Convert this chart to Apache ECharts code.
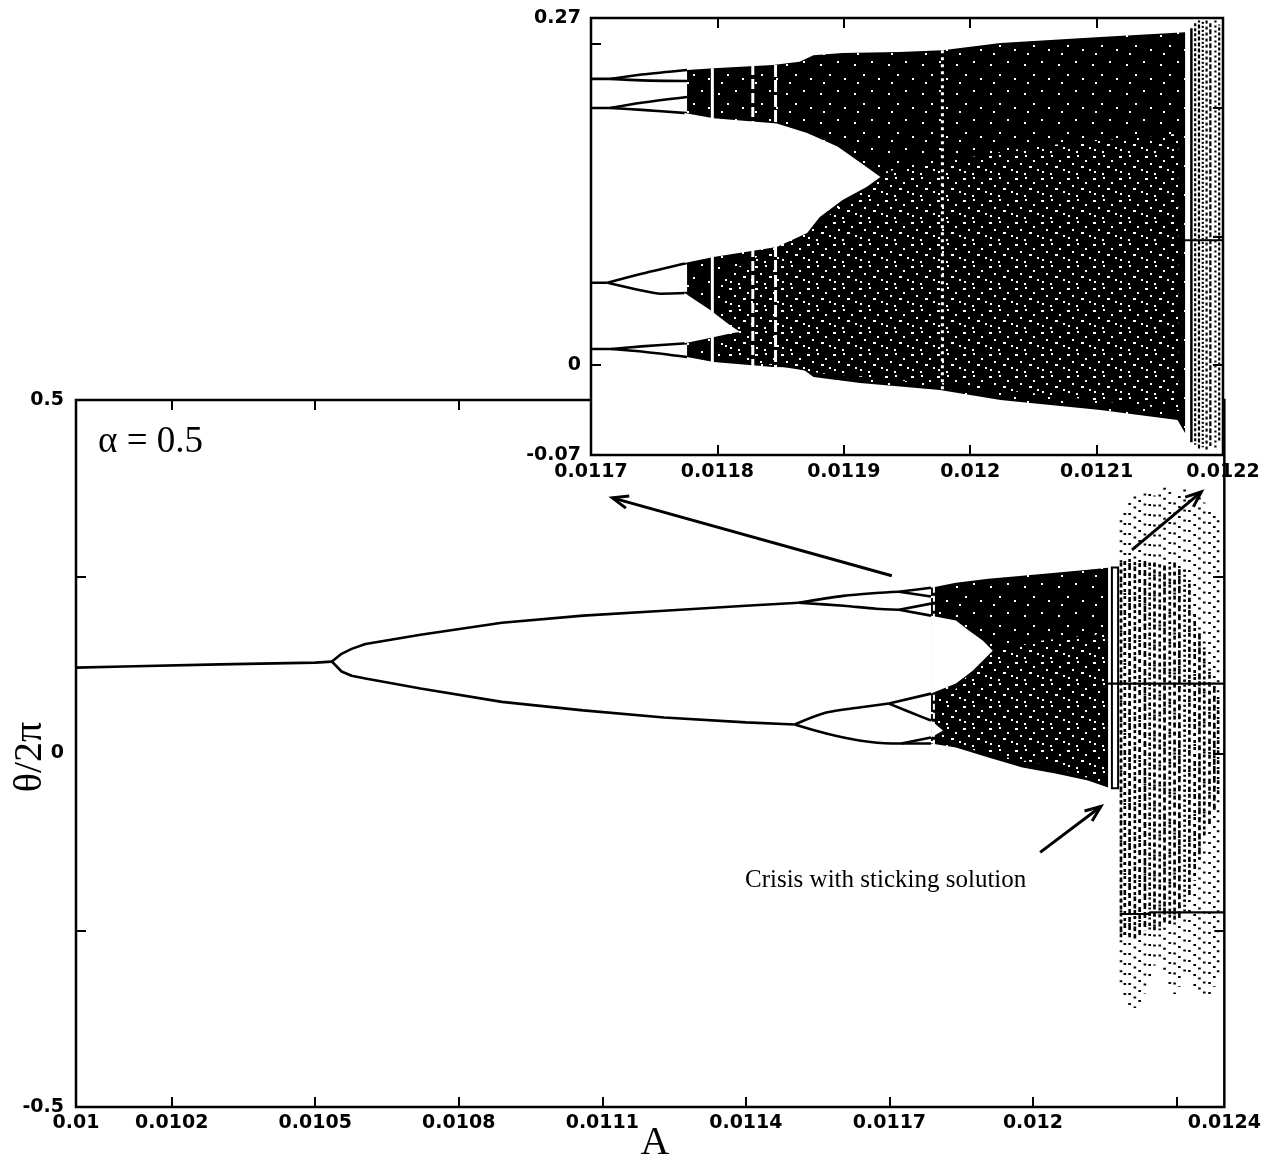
<!DOCTYPE html>
<html><head><meta charset="utf-8">
<script src="https://cdn.jsdelivr.net/npm/echarts@6/dist/echarts.min.js"></script>
<style>html,body{margin:0;padding:0;background:#fff}#c{width:1264px;height:1159px}</style>
</head><body><div id="c"></div>
<script>
// ================= DATA =================
// ---- main chart axes ----
const mainXTicks = [0.0102,0.0105,0.0108,0.0111,0.0114,0.0117,0.012,0.0123];
const mainXLabelVals = [0.01,0.0102,0.0105,0.0108,0.0111,0.0114,0.0117,0.012,0.0124];
const mainXLabelText = ['0.01','0.0102','0.0105','0.0108','0.0111','0.0114','0.0117','0.012','0.0124'];
const mainYLabelVals = [0.5,0,-0.5];
const mainYLabelText = ['0.5','0','-0.5'];
const mainYTicksLeft = [0.25,-0.25];
const mainYTicksRight = [0.25,0,-0.25];

// ---- main chart: periodic branches (A, theta/2pi) ----
const p1A = [0.01,0.0101,0.0103,0.0105,0.010535];
const p1T = [0.1215,0.123,0.126,0.1285,0.130];
const p2UpA = [0.010535,0.010555,0.010576,0.010605,0.01072,0.01089,0.01106,0.011229,0.0114,0.01151];
const p2UpT = [0.130,0.141,0.148,0.155,0.168,0.185,0.195,0.202,0.209,0.2133];
const p2LoA = [0.010535,0.010555,0.010576,0.010605,0.01072,0.01089,0.01106,0.011229,0.0114,0.011502];
const p2LoT = [0.130,0.116,0.110,0.106,0.092,0.073,0.061,0.051,0.044,0.041];
const p4UUA = [0.01151,0.011604,0.011672,0.01172];   const p4UUT = [0.2133,0.223,0.227,0.2288];
const p4ULA = [0.01151,0.011604,0.011672,0.01172];   const p4ULT = [0.2133,0.209,0.2048,0.2034];
const p4LUA = [0.011502,0.011568,0.011637,0.011699]; const p4LUT = [0.041,0.0579,0.065,0.0706];
const p4LLA = [0.011502,0.011568,0.011637,0.011705,0.011787]; const p4LLT = [0.041,0.0282,0.0183,0.0141,0.0141];
const p8UUaA = [0.01172,0.011787];  const p8UUaT = [0.2288,0.2345];
const p8UUbA = [0.01172,0.011787];  const p8UUbT = [0.2288,0.222];
const p8ULaA = [0.01172,0.011787];  const p8ULaT = [0.2034,0.212];
const p8ULbA = [0.01172,0.011787];  const p8ULbT = [0.2034,0.195];
const p8LUaA = [0.011699,0.011787]; const p8LUaT = [0.0706,0.0847];
const p8LUbA = [0.011699,0.01175,0.011787]; const p8LUbT = [0.0706,0.0565,0.0466];
const p8LLaA = [0.011725,0.011787]; const p8LLaT = [0.0141,0.0226];

// ---- main chart: chaotic band envelope ----
const mChaosA    = [0.011787,0.011839,0.011907,0.011978,0.012047,0.012115,0.012157];
const mChaosTopT = [0.2345,0.2415,0.247,0.2514,0.2556,0.26,0.2627];
const mChaosBotT = [0.0141,0.0085,-0.0056,-0.0198,-0.0282,-0.0381,-0.048];
const mNotch1A = [0.011787,0.011839,0.011866,0.011895,0.011916,0.011874,0.011839,0.011787];
const mNotch1T = [0.195,0.188,0.174,0.160,0.1455,0.117,0.0989,0.0847];
const mNotch2A = [0.011787,0.011812,0.011787];
const mNotch2T = [0.0466,0.0325,0.0226];
const mDenseA = [0.0118,0.0119,0.01202,0.012152,0.012152,0.01202,0.0119,0.0118];
const mDenseT = [0.06,0.14,0.16,0.17,-0.042,-0.015,0.0,0.02];
const mWindowA = [0.011793]; const mWindowTop = [0.236]; const mWindowBot = [0.013];

// ---- main chart: crisis / sticking region ----
const mStickBoxA = [0.012165,0.012178,0.012178,0.012165];
const mStickBoxT = [0.263,0.263,-0.049,-0.049];
const mColA = [0.012184,0.012192,0.012202,0.012213,0.012223,0.012234,0.012244,0.012254,0.012265,0.012275,0.012286,0.012296,0.012306,0.012317,0.012327,0.012338,0.012348,0.012358,0.012369,0.012379,0.012387];
const mColTop = [0.33,0.35,0.36,0.365,0.37,0.375,0.37,0.365,0.375,0.38,0.37,0.365,0.37,0.375,0.37,0.36,0.365,0.355,0.35,0.34,0.33];
const mColBot = [-0.33,-0.35,-0.36,-0.36,-0.355,-0.34,-0.32,-0.3,-0.29,-0.31,-0.33,-0.34,-0.33,-0.31,-0.32,-0.34,-0.345,-0.35,-0.34,-0.33,-0.32];
const mColDenseTop = [0.27,0.275,0.275,0.275,0.275,0.275,0.27,0.27,0.27,0.27,0.27,0.27,0.265,0.26,0.24,0.2,0.17,0.15,0.12,0.1,0.08];
const mColDenseBot = [-0.26,-0.26,-0.26,-0.26,-0.26,-0.25,-0.25,-0.25,-0.25,-0.24,-0.24,-0.24,-0.23,-0.22,-0.2,-0.18,-0.15,-0.12,-0.1,-0.08,-0.06];
const mH1A = [0.012157,0.0124];                 const mH1T = [0.0989,0.0989];
const mH2A = [0.012186,0.01224,0.012245,0.0124]; const mH2T = [-0.227,-0.227,-0.2246,-0.2246];

// ---- arrows (main-chart coordinates) ----
const arrowTailA = [0.011705,0.012207,0.012015];
const arrowTailT = [0.2514,0.2881,-0.1398];
const arrowHeadA = [0.011121,0.012352,0.012142];
const arrowHeadT = [0.3616,0.370,-0.0749];

// ---- inset axes ----
const inXTicks = [0.0118,0.0119,0.012,0.0121];
const inXLabelVals = [0.0117,0.0118,0.0119,0.012,0.0121,0.0122];
const inXLabelText = ['0.0117','0.0118','0.0119','0.012','0.0121','0.0122'];
const inYLabelVals = [0.27,0,-0.07];
const inYLabelText = ['0.27','0','-0.07'];
const inYTicksLeft = [0.25,0];
const inYTicksRight = [0.2,0.1,0];

// ---- inset: periodic branches ----
const iUUA = [0.0117,0.011715];  const iUUT = [0.2226,0.2226];
const iUUaA = [0.011715,0.01174,0.011776]; const iUUaT = [0.2226,0.226,0.2296];
const iUUbA = [0.011715,0.01174,0.011776]; const iUUbT = [0.2226,0.2215,0.221];
const iULA = [0.0117,0.011715];  const iULT = [0.200,0.200];
const iULaA = [0.011715,0.01174,0.011776]; const iULaT = [0.200,0.204,0.2085];
const iULbA = [0.011715,0.01174,0.011776]; const iULbT = [0.200,0.1985,0.196];
const iLUA = [0.0117,0.011713];  const iLUT = [0.064,0.064];
const iLUaA = [0.011713,0.01174,0.011776]; const iLUaT = [0.064,0.071,0.0794];
const iLUbA = [0.011713,0.01174,0.011755,0.011776]; const iLUbT = [0.064,0.058,0.0555,0.056];
const iLLA = [0.0117,0.011716];  const iLLT = [0.0125,0.0125];
const iLLaA = [0.011716,0.01174,0.011776]; const iLLaT = [0.0125,0.0145,0.017];
const iLLbA = [0.011716,0.01174,0.011776]; const iLLbT = [0.0125,0.0105,0.0062];

// ---- inset: chaotic band ----
const iTopA = [0.011776,0.011797,0.011844,0.011865,0.011876,0.011899,0.011944,0.011978,0.012024,0.012103,0.01217];
const iTopT = [0.2296,0.231,0.2335,0.236,0.241,0.2428,0.2436,0.245,0.2506,0.2553,0.259];
const iBotA = [0.011776,0.011797,0.011844,0.011866,0.011876,0.011913,0.011976,0.012024,0.012103,0.012164,0.01217];
const iBotT = [0.0062,0.0023,-0.0016,-0.002,-0.0093,-0.014,-0.0195,-0.0272,-0.035,-0.0428,-0.0529];
const iNotch1A = [0.011774,0.011797,0.011847,0.011871,0.011895,0.011913,0.011929,0.011918,0.011899,0.011881,0.011871,0.011847,0.011797,0.011774];
const iNotch1T = [0.196,0.192,0.188,0.1805,0.170,0.1576,0.1463,0.1385,0.1284,0.1152,0.1027,0.0918,0.084,0.0794];
const iNotch2A = [0.011774,0.011794,0.01181,0.011818,0.011812,0.011794,0.011774];
const iNotch2T = [0.056,0.043,0.031,0.0257,0.025,0.021,0.017];
const iDenseA = [0.011805,0.01188,0.01193,0.01205,0.012165,0.012165,0.01205,0.01188,0.011805];
const iDenseT = [0.07,0.11,0.15,0.17,0.18,-0.035,-0.022,-0.006,0.006];
const iWindowA = [0.011796,0.011828,0.011846,0.011978];
const iWindowTop = [0.231,0.2335,0.2335,0.245];
const iWindowBot = [0.0023,-0.0016,-0.0016,-0.0195];
const iStickLineA = [0.012175]; const iStickLineTop = [0.262]; const iStickLineBot = [-0.06];
const iColA = [0.012178,0.012181,0.012184,0.012187,0.01219,0.012194,0.012197];
const iColTop = [0.266,0.268,0.267,0.268,0.266,0.268,0.265];
const iColBot = [-0.062,-0.066,-0.064,-0.066,-0.063,-0.065,-0.06];
const iH1A = [0.012161,0.0122]; const iH1T = [0.097,0.097];

// ================= STYLE HELPERS =================
function makeTile(w, h, dots) {
  const c = document.createElement('canvas'); c.width = w; c.height = h;
  const g = c.getContext('2d'); g.fillStyle = '#000'; g.fillRect(0, 0, w, h);
  g.fillStyle = '#fff'; dots.forEach(d => g.fillRect(d[0], d[1], d[2], d[3]));
  return c;
}
const lightFill = { image: makeTile(34, 29, [[4,6,2,2],[21,3,2,2],[13,16,2,2],[28,20,2,2],[7,24,2,2]]), repeat: 'repeat' };
const heavyFill = { image: makeTile(26, 22, [[1,2,3,2],[11,1,2,2],[19,6,2,2],[6,9,2,2],[15,12,3,2],[23,15,2,2],[2,17,2,2],[10,19,2,2]]), repeat: 'repeat' };

const TICKFONT = { fontFamily: 'DejaVu Sans', fontWeight: 'bold', fontSize: 19, color: '#000' };
function lbl(vals, texts) { return v => { for (let i = 0; i < vals.length; i++) if (Math.abs(vals[i] - v) < 1e-9) return texts[i]; return ''; }; }
const tickStyle = { color: '#000', width: 2 };

// ================= SERIES =================
const series = [];
function lineS(A, T, xi, yi, z, w, smooth) {
  series.push({ type: 'line', xAxisIndex: xi, yAxisIndex: yi, z: z, silent: true, showSymbol: false, symbol: 'none',
    smooth: smooth || false,
    data: A.map((a, i) => [a, T[i]]), lineStyle: { color: '#000', width: w || 2.6 } });
}
function polyS(polys, xi, yi, z) {
  series.push({ type: 'custom', xAxisIndex: xi, yAxisIndex: yi, z: z, silent: true,
    data: polys.map((p, i) => [p.a[0], p.t[0], i]),
    renderItem(params, api) {
      const p = polys[params.dataIndex];
      return { type: 'polygon', shape: { points: p.a.map((a, k) => api.coord([a, p.t[k]])) },
        style: { fill: p.fill, stroke: p.stroke || null, lineWidth: p.lw || 0 } };
    } });
}
function vlineS(A, Top, Bot, xi, yi, z, styleFn) {
  series.push({ type: 'custom', xAxisIndex: xi, yAxisIndex: yi, z: z, silent: true,
    data: A.map((a, i) => [a, Top[i], Bot[i]]),
    renderItem(params, api) {
      const i = params.dataIndex;
      const p1 = api.coord([A[i], Top[i]]), p2 = api.coord([A[i], Bot[i]]);
      return { type: 'line', shape: { x1: p1[0], y1: p1[1], x2: p2[0], y2: p2[1] }, style: styleFn(i) };
    } });
}
function outline(a, top, bot) { return { a: a.concat(a.slice().reverse()), t: top.concat(bot.slice().reverse()) }; }

// ---- main periodic lines ----
lineS(p1A, p1T, 0, 0, 3);
lineS(p2UpA, p2UpT, 0, 0, 3);
lineS(p2LoA, p2LoT, 0, 0, 3);
[[p4UUA,p4UUT],[p4ULA,p4ULT],[p4LUA,p4LUT],[p4LLA,p4LLT],
 [p8UUaA,p8UUaT],[p8UUbA,p8UUbT],[p8ULaA,p8ULaT],[p8ULbA,p8ULbT],[p8LUaA,p8LUaT],[p8LUbA,p8LUbT],[p8LLaA,p8LLaT]]
  .forEach(b => lineS(b[0], b[1], 0, 0, 3, 2.6, b[0].length > 2 ? 0.3 : false));

// ---- main chaos ----
const mOuter = outline(mChaosA, mChaosTopT, mChaosBotT); mOuter.fill = lightFill;
polyS([mOuter, { a: mDenseA, t: mDenseT, fill: heavyFill },
       { a: mNotch1A, t: mNotch1T, fill: '#fff' }, { a: mNotch2A, t: mNotch2T, fill: '#fff' },
       { a: mStickBoxA, t: mStickBoxT, fill: null, stroke: '#000', lw: 2 }], 0, 0, 4);
vlineS(mWindowA, mWindowTop, mWindowBot, 0, 0, 5, () => ({ stroke: '#fff', lineWidth: 2, lineDash: [6, 3] }));
const mColDash = [[4,3],[3,4],[5,3],[3,3],[4,4],[6,3],[2,3]];
vlineS(mColA, mColTop, mColBot, 0, 0, 5, i => ({ stroke: '#000', lineWidth: 2.6, lineDash: [2, 8], lineDashOffset: i * 3 }));
vlineS(mColA, mColDenseTop, mColDenseBot, 0, 0, 5, i => ({ stroke: '#000', lineWidth: 2.6, lineDash: mColDash[i % mColDash.length], lineDashOffset: i * 5 }));
lineS(mH1A, mH1T, 0, 0, 6, 2.2);
lineS(mH2A, mH2T, 0, 0, 6, 2.2);

// ---- arrows ----
series.push({ type: 'custom', xAxisIndex: 0, yAxisIndex: 0, z: 7, silent: true,
  data: arrowTailA.map((a, i) => [a, arrowTailT[i]]),
  renderItem(params, api) {
    const i = params.dataIndex;
    const t = api.coord([arrowTailA[i], arrowTailT[i]]), h = api.coord([arrowHeadA[i], arrowHeadT[i]]);
    const ang = Math.atan2(h[1] - t[1], h[0] - t[0]), L = 17, w = 0.38;
    const l1 = [h[0] - L * Math.cos(ang - w), h[1] - L * Math.sin(ang - w)];
    const l2 = [h[0] - L * Math.cos(ang + w), h[1] - L * Math.sin(ang + w)];
    return { type: 'group', children: [
      { type: 'line', shape: { x1: t[0], y1: t[1], x2: h[0], y2: h[1] }, style: { stroke: '#000', lineWidth: 3 } },
      { type: 'polyline', shape: { points: [l1, h, l2] }, style: { stroke: '#000', lineWidth: 3, fill: null } }
    ] };
  } });

// ---- inset periodic lines ----
[[iUUA,iUUT],[iUUaA,iUUaT],[iUUbA,iUUbT],[iULA,iULT],[iULaA,iULaT],[iULbA,iULbT],
 [iLUA,iLUT],[iLUaA,iLUaT],[iLUbA,iLUbT],[iLLA,iLLT],[iLLaA,iLLaT],[iLLbA,iLLbT]]
  .forEach(b => lineS(b[0], b[1], 2, 2, 13, 2.6, b[0].length > 2 ? 0.3 : false));

// ---- inset chaos ----
const iOuter = { a: iTopA.concat(iBotA.slice().reverse()), t: iTopT.concat(iBotT.slice().reverse()), fill: lightFill };
polyS([iOuter, { a: iDenseA, t: iDenseT, fill: heavyFill },
       { a: iNotch1A, t: iNotch1T, fill: '#fff' }, { a: iNotch2A, t: iNotch2T, fill: '#fff' }], 2, 2, 14);
const iWinDash = [null, [10, 4], [12, 3], [3, 4]];
vlineS(iWindowA, iWindowTop, iWindowBot, 2, 2, 15, i => ({ stroke: '#fff', lineWidth: 3, lineDash: iWinDash[i] }));
vlineS(iStickLineA, iStickLineTop, iStickLineBot, 2, 2, 15, () => ({ stroke: '#000', lineWidth: 2.5 }));
const iColDash = [[3,2],[4,2],[2,2],[3,3],[5,2],[2,3],[3,2]];
vlineS(iColA, iColTop, iColBot, 2, 2, 15, i => ({ stroke: '#000', lineWidth: 2.2, lineDash: iColDash[i], lineDashOffset: i * 2 }));
lineS(iH1A, iH1T, 2, 2, 16, 2);

// ================= CHART =================
const noLine = { show: false, onZero: false };
const chart = echarts.init(document.getElementById('c'), null, { renderer: 'canvas' });
chart.setOption({
  animation: false,
  backgroundColor: '#fff',
  grid: [
    { left: 76, top: 400, width: 1154, height: 707, show: true, borderColor: '#000', borderWidth: 2.5, backgroundColor: 'transparent', z: 0 },
    { left: 591, top: 18, width: 632, height: 437, show: true, borderColor: '#000', borderWidth: 2.5, backgroundColor: '#fff', z: 10 }
  ],
  xAxis: [
    { gridIndex: 0, type: 'value', position: 'bottom', min: 0.01, max: 0.0124, axisLine: noLine, splitLine: { show: false },
      axisTick: { show: true, inside: true, length: 10, lineStyle: tickStyle, customValues: mainXTicks },
      axisLabel: Object.assign({ show: true, margin: 7, customValues: mainXLabelVals, formatter: lbl(mainXLabelVals, mainXLabelText) }, TICKFONT) },
    { gridIndex: 0, type: 'value', position: 'top', min: 0.01, max: 0.0124, axisLine: noLine, splitLine: { show: false },
      axisTick: { show: true, inside: true, length: 10, lineStyle: tickStyle, customValues: mainXTicks }, axisLabel: { show: false } },
    { gridIndex: 1, type: 'value', position: 'bottom', min: 0.0117, max: 0.0122, z: 11, axisLine: noLine, splitLine: { show: false },
      axisTick: { show: true, inside: true, length: 10, lineStyle: tickStyle, customValues: inXTicks },
      axisLabel: Object.assign({ show: true, margin: 8, customValues: inXLabelVals, formatter: lbl(inXLabelVals, inXLabelText) }, TICKFONT) },
    { gridIndex: 1, type: 'value', position: 'top', min: 0.0117, max: 0.0122, z: 11, axisLine: noLine, splitLine: { show: false },
      axisTick: { show: true, inside: true, length: 10, lineStyle: tickStyle, customValues: inXTicks }, axisLabel: { show: false } }
  ],
  yAxis: [
    { gridIndex: 0, type: 'value', position: 'left', min: -0.5, max: 0.5, axisLine: noLine, splitLine: { show: false },
      axisTick: { show: true, inside: true, length: 10, lineStyle: tickStyle, customValues: mainYTicksLeft },
      axisLabel: Object.assign({ show: true, margin: 12, customValues: mainYLabelVals, formatter: lbl(mainYLabelVals, mainYLabelText) }, TICKFONT) },
    { gridIndex: 0, type: 'value', position: 'right', min: -0.5, max: 0.5, axisLine: noLine, splitLine: { show: false },
      axisTick: { show: true, inside: true, length: 10, lineStyle: tickStyle, customValues: mainYTicksRight }, axisLabel: { show: false } },
    { gridIndex: 1, type: 'value', position: 'left', min: -0.07, max: 0.27, z: 11, axisLine: noLine, splitLine: { show: false },
      axisTick: { show: true, inside: true, length: 10, lineStyle: tickStyle, customValues: inYTicksLeft },
      axisLabel: Object.assign({ show: true, margin: 10, customValues: inYLabelVals, formatter: lbl(inYLabelVals, inYLabelText) }, TICKFONT) },
    { gridIndex: 1, type: 'value', position: 'right', min: -0.07, max: 0.27, z: 11, axisLine: noLine, splitLine: { show: false },
      axisTick: { show: true, inside: true, length: 10, lineStyle: tickStyle, customValues: inYTicksRight }, axisLabel: { show: false } }
  ],
  graphic: [
    { type: 'text', x: 98, y: 442, z: 20, style: { text: 'α = 0.5', font: '37px "Liberation Serif"', fill: '#000', verticalAlign: 'middle', textVerticalAlign: 'middle' } },
    { type: 'text', x: 745, y: 880, z: 20, style: { text: 'Crisis with sticking solution', font: '25px "Liberation Serif"', fill: '#000', verticalAlign: 'middle', textVerticalAlign: 'middle' } },
    { type: 'text', x: 655, y: 1143, z: 20, style: { text: 'A', font: '40px "Liberation Serif"', fill: '#000', align: 'center', textAlign: 'center', verticalAlign: 'middle', textVerticalAlign: 'middle' } },
    { type: 'text', x: 30, y: 757, z: 20, rotation: Math.PI / 2, style: { text: 'θ/2π', font: '40px "Liberation Serif"', fill: '#000', align: 'center', textAlign: 'center', verticalAlign: 'middle', textVerticalAlign: 'middle' } }
  ],
  series: series
});
</script>
</body></html>
